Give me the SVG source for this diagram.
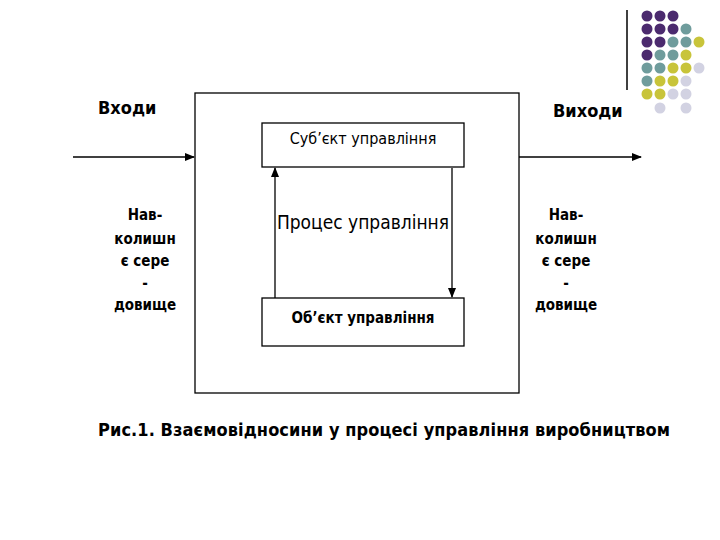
<svg xmlns="http://www.w3.org/2000/svg" width="720" height="540" viewBox="0 0 720 540">
<defs>
<style>
.b{fill:#fff;stroke:#000;stroke-width:1.3}
.l{stroke:#000;stroke-width:1.3;fill:none}
text{font-family:"DejaVu Sans Condensed","DejaVu Sans",sans-serif;fill:#000}
.h{font-size:18px;font-weight:bold}
.s{font-size:15px;text-anchor:middle}
.P{fill:#4b2a6e}.T{fill:#6f9c9c}.Y{fill:#c8c43a}.L{fill:#d2d2e2}
</style>
<marker id="a" markerWidth="10" markerHeight="8" refX="9" refY="4" orient="auto" markerUnits="userSpaceOnUse"><path d="M0,0L10,4L0,8z" fill="#000"/></marker>
</defs>
<g id="deco">
<line x1="627" y1="10" x2="627" y2="90" stroke="#000" stroke-width="1.5"/>
<g transform="translate(647,16)">
<circle class="P" cx="0" cy="0" r="5.5"/><circle class="P" cx="13" cy="0" r="5.5"/><circle class="P" cx="26" cy="0" r="5.5"/>
<circle class="P" cx="0" cy="13" r="5.5"/><circle class="P" cx="13" cy="13" r="5.5"/><circle class="P" cx="26" cy="13" r="5.5"/><circle class="T" cx="39" cy="13" r="5.5"/>
<circle class="P" cx="0" cy="26" r="5.5"/><circle class="P" cx="13" cy="26" r="5.5"/><circle class="T" cx="26" cy="26" r="5.5"/><circle class="T" cx="39" cy="26" r="5.5"/><circle class="Y" cx="52" cy="26" r="5.5"/>
<circle class="P" cx="0" cy="39" r="5.5"/><circle class="T" cx="13" cy="39" r="5.5"/><circle class="T" cx="26" cy="39" r="5.5"/><circle class="Y" cx="39" cy="39" r="5.5"/>
<circle class="T" cx="0" cy="52" r="5.5"/><circle class="T" cx="13" cy="52" r="5.5"/><circle class="Y" cx="26" cy="52" r="5.5"/><circle class="Y" cx="39" cy="52" r="5.5"/><circle class="L" cx="52" cy="52" r="5.5"/>
<circle class="T" cx="0" cy="65" r="5.5"/><circle class="Y" cx="13" cy="65" r="5.5"/><circle class="Y" cx="26" cy="65" r="5.5"/><circle class="L" cx="39" cy="65" r="5.5"/>
<circle class="Y" cx="0" cy="78" r="5.5"/><circle class="Y" cx="13" cy="78" r="5.5"/><circle class="L" cx="26" cy="78" r="5.5"/><circle class="L" cx="39" cy="78" r="5.5"/>
<circle class="L" cx="13" cy="92" r="5.5"/><circle class="L" cx="39" cy="92" r="5.5"/>
</g>
</g>
<g id="outer"><rect class="b" x="195" y="93" width="324" height="300"/></g>
<g id="subject"><rect class="b" x="262" y="123" width="202" height="44"/><text x="363" y="144" class="s" style="font-size:16px">Суб’єкт управління</text></g>
<g id="object"><rect class="b" x="262" y="298" width="202" height="48"/><text x="363" y="323" class="s" style="font-size:15px;font-weight:bold">Об’єкт управління</text></g>
<g id="process"><text x="363" y="229" class="s" style="font-size:19px">Процес управління</text></g>
<g id="connectors">
<line class="l" x1="73" y1="157" x2="194" y2="157" marker-end="url(#a)"/>
<line class="l" x1="519" y1="157" x2="641" y2="157" marker-end="url(#a)"/>
<line class="l" x1="275" y1="298" x2="275" y2="168" marker-end="url(#a)"/>
<line class="l" x1="452" y1="168" x2="452" y2="297" marker-end="url(#a)"/>
</g>
<g id="labels">
<text x="98" y="114" class="h">Входи</text>
<text x="553" y="117" class="h">Виходи</text>
<text class="s" style="font-weight:bold"><tspan x="145" y="220">Нав-</tspan><tspan x="145" y="244">колишн</tspan><tspan x="145" y="266">є сере</tspan><tspan x="145" y="288">-</tspan><tspan x="145" y="310">довище</tspan></text>
<text class="s" style="font-weight:bold"><tspan x="566" y="220">Нав-</tspan><tspan x="566" y="244">колишн</tspan><tspan x="566" y="266">є сере</tspan><tspan x="566" y="288">-</tspan><tspan x="566" y="310">довище</tspan></text>
<text x="98" y="436" class="h" textLength="572">Рис.1. Взаємовідносини у процесі управління виробництвом</text>
</g>
</svg>
